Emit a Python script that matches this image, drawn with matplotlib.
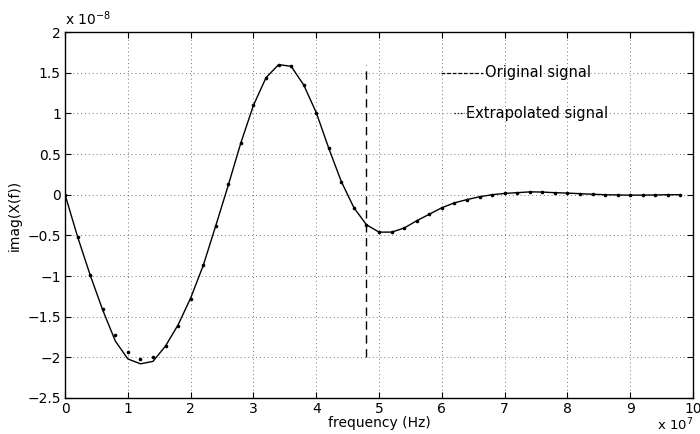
import matplotlib
matplotlib.use("Agg")
import matplotlib.pyplot as plt

plt.rcParams.update({"font.family": ["DejaVu Sans"], "font.size": 10})

# frequency axis in units of 1e7 Hz, signal in units of 1e-8
freq = [0.0, 0.2, 0.4, 0.6, 0.8, 1.0, 1.2, 1.4, 1.6, 1.8,
        2.0, 2.2, 2.4, 2.6, 2.8, 3.0, 3.2, 3.4, 3.6, 3.8,
        4.0, 4.2, 4.4, 4.6, 4.8, 5.0, 5.2, 5.4, 5.6, 5.8,
        6.0, 6.2, 6.4, 6.6, 6.8, 7.0, 7.2, 7.4, 7.6, 7.8,
        8.0, 8.2, 8.4, 8.6, 8.8, 9.0, 9.2, 9.4, 9.6, 9.8]
original = [0.0, -0.52, -0.99, -1.42, -1.80, -2.02, -2.08, -2.05, -1.86, -1.60,
            -1.27, -0.87, -0.38, 0.12, 0.64, 1.10, 1.44, 1.60, 1.58, 1.35,
            1.01, 0.57, 0.16, -0.16, -0.37, -0.46, -0.46, -0.41, -0.32, -0.24,
            -0.16, -0.10, -0.06, -0.025, 0.0, 0.016, 0.025, 0.035, 0.033, 0.025,
            0.02, 0.013, 0.006, 0.0, -0.003, -0.005, -0.005, -0.003, 0.0, 0.0]
extrapolated = [0.0, -0.52, -0.99, -1.40, -1.72, -1.93, -2.02, -1.99, -1.86, -1.62,
                -1.28, -0.87, -0.38, 0.13, 0.64, 1.10, 1.44, 1.60, 1.58, 1.35,
                1.01, 0.57, 0.16, -0.16, -0.37, -0.46, -0.46, -0.41, -0.32, -0.24,
                -0.16, -0.10, -0.06, -0.025, 0.0, 0.016, 0.025, 0.037, 0.033, 0.025,
                0.02, 0.013, 0.006, 0.0, -0.003, -0.005, -0.005, -0.003, 0.0, 0.0]
cut_freq = 4.8
cut_span = (-2.0, 1.6)

fig = plt.figure(figsize=(7, 4.34), dpi=100)
ax = fig.add_axes([0.093, 0.083, 0.897, 0.843])

ax.plot(freq, original, color="black", lw=1.0)
ax.plot(freq, extrapolated, ls="none", marker="o", ms=1.6, color="black")
ax.plot([cut_freq, cut_freq], cut_span, color="black", lw=1.0, ls=(0, (6, 4)))

# legend drawn as plain annotations, like the original
ax.plot([5.98, 6.66], [1.5, 1.5], color="black", lw=0.9, ls=(0, (3, 1.5)))
ax.text(6.68, 1.5, "Original signal", va="center", ha="left", fontsize=10.5)
ax.plot([6.2, 6.36], [1.0, 1.0], color="black", lw=0.9, ls=(0, (1, 1.5)))
ax.text(6.38, 1.0, "Extrapolated signal", va="center", ha="left", fontsize=10.5)

ax.set_xlim(0, 10)
ax.set_ylim(-2.5, 2)
ax.set_xticks(range(0, 11))
ax.set_yticks([-2.5, -2, -1.5, -1, -0.5, 0, 0.5, 1, 1.5, 2])
ax.set_yticklabels(["\u22122.5", "\u22122", "\u22121.5", "\u22121", "\u22120.5",
                    "0", "0.5", "1", "1.5", "2"])
ax.tick_params(direction="in", top=True, right=True, length=4, width=0.8, pad=3)
ax.grid(True, ls=(0, (1, 3)), lw=0.7, color="black", alpha=0.55)
for s in ax.spines.values():
    s.set_linewidth(1.0)

ax.set_xlabel("frequency (Hz)", labelpad=0)
ax.set_ylabel("imag(X(f))", labelpad=4)
fig.text(0.093, 0.935, r"x 10$^{-8}$", ha="left", va="bottom")
fig.text(0.938, 0.002, r"x 10$^{7}$", ha="left", va="bottom", fontsize=9.5)

fig.savefig("out.png", dpi=100)
